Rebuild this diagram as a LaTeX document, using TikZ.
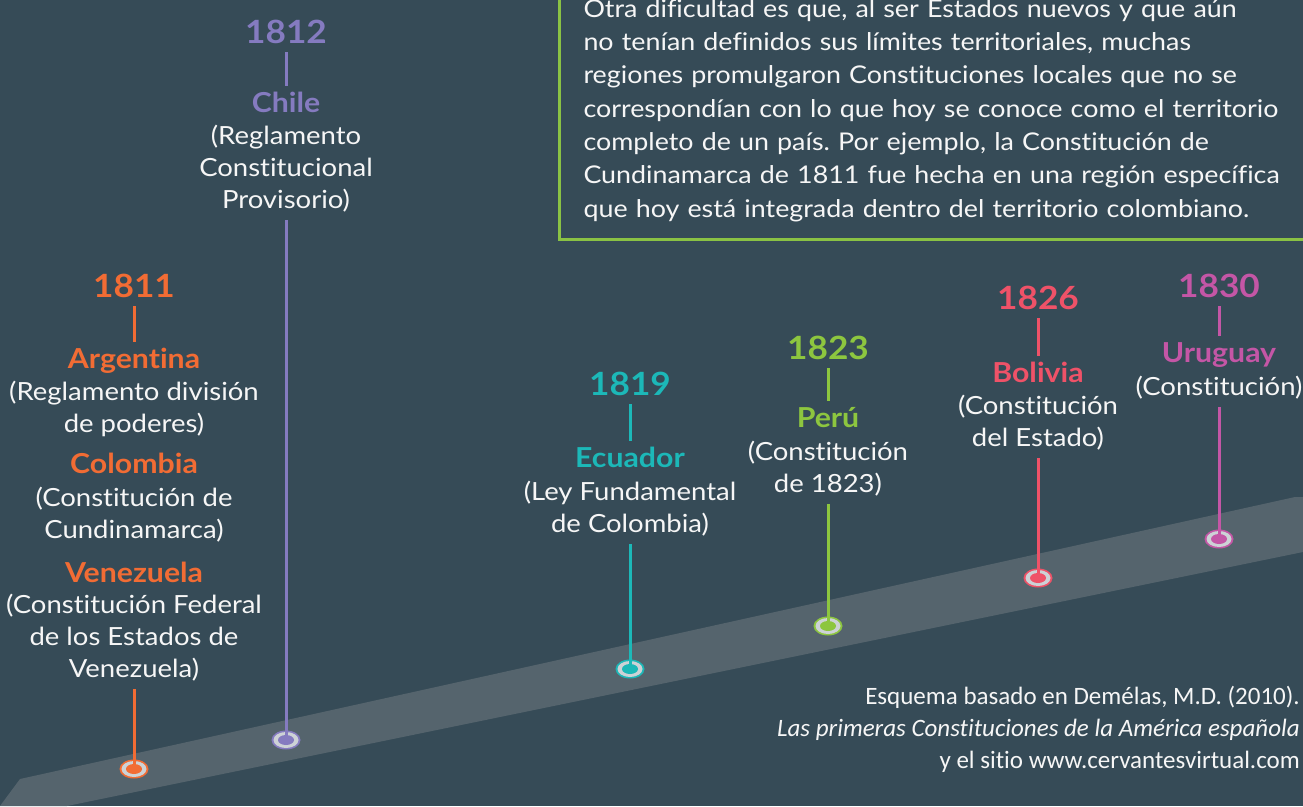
\documentclass[tikz,border=0pt]{standalone}
\usepackage{fontspec}
\setmainfont{Lato}[FakeStretch=1.1, Ligatures=NoCommon]
\newfontfamily\creditfont{Carlito}[Ligatures=NoCommon]
\usetikzlibrary{positioning}
\frenchspacing
\definecolor{bgslate}{RGB}{54,75,87}
\definecolor{band}{RGB}{85,100,109}
\definecolor{ring}{RGB}{205,210,214}
\definecolor{txt}{RGB}{246,246,246}
\definecolor{boxgreen}{RGB}{138,194,68}
\definecolor{c1811}{RGB}{242,108,52}
\definecolor{c1812}{RGB}{133,123,192}
\definecolor{c1819}{RGB}{28,184,184}
\definecolor{c1823}{RGB}{141,198,63}
\definecolor{c1826}{RGB}{239,82,104}
\definecolor{c1830}{RGB}{196,86,166}

\begin{document}
\begin{tikzpicture}[x=1pt, y=-1pt,
  year/.style={font=\fontsize{32}{32}\selectfont\bfseries, inner sep=0pt, anchor=base},
  country/.style={font=\fontsize{27.5}{27.5}\selectfont\bfseries, inner sep=0pt, anchor=base, text height=20pt, text depth=0pt},
  desc/.style={font=\fontsize{25}{32}\selectfont, text=txt, align=center, inner sep=0pt, anchor=base},
  tick/.style={line width=3pt, shorten <=9pt, shorten >=6pt},
  stem/.style={line width=3pt, shorten <=8pt}]
\useasboundingbox (0,0) rectangle (1303,806);
\fill[bgslate] (0,0) rectangle (1303,806);
\fill[band] (0,806) -- (20,779) -- (1295,497) -- (1303,497) -- (1303,552) -- (67,806) -- cycle;

\node[draw=boxgreen, line width=3pt, anchor=south west, inner xsep=24pt, inner ysep=18pt, text=txt,
  text width=760pt, align=left, font=\fontsize{24.4}{33.3}\selectfont] (note) at (558,241)
  {Otra dificultad es que, al ser Estados nuevos y que aún\\
  no tenían definidos sus límites territoriales, muchas\\
  regiones promulgaron Constituciones locales que no se\\
  correspondían con lo que hoy se conoce como el territorio\\
  completo de un país. Por ejemplo, la Constitución de\\
  Cundinamarca de 1811 fue hecha en una región específica\\
  que hoy está integrada dentro del territorio colombiano.};

\node[year, text=c1811] (y1811) at (134,297) {1811};
\node[country, text=c1811] (n1811a) at (134,368) {Argentina};
\node[desc] (d1811a) at (134,432) {(Reglamento división\\de poderes)};
\node[country, text=c1811] (n1811b) at (134,473) {Colombia};
\node[desc] (d1811b) at (134,538) {(Constitución de\\Cundinamarca)};
\node[country, text=c1811] (n1811c) at (134,582) {Venezuela};
\node[desc] (d1811c) at (134,677) {(Constitución Federal\\de los Estados de\\Venezuela)};

\node[year, text=c1812] (y1812) at (286,43) {1812};
\node[country, text=c1812] (n1812) at (286,112) {Chile};
\node[desc] (d1812) at (286,208) {(Reglamento\\Constitucional\\Provisorio)};

\node[year, text=c1819] (y1819) at (630,395) {1819};
\node[country, text=c1819] (n1819) at (630,467) {Ecuador};
\node[desc] (d1819) at (630,532) {(Ley Fundamental\\de Colombia)};

\node[year, text=c1823] (y1823) at (828,359) {1823};
\node[country, text=c1823] (n1823) at (828,427) {Perú};
\node[desc] (d1823) at (828,492) {(Constitución\\de 1823)};

\node[year, text=c1826] (y1826) at (1038,309) {1826};
\node[country, text=c1826] (n1826) at (1038,382) {Bolivia};
\node[desc] (d1826) at (1038,446) {(Constitución\\del Estado)};

\node[year, text=c1830] (y1830) at (1219,297) {1830};
\node[country, text=c1830] (n1830) at (1219,362) {Uruguay};
\node[desc] (d1830) at (1219,395) {(Constitución)};

\coordinate (m1811) at (134,769);
\coordinate (m1812) at (286,740);
\coordinate (m1819) at (630,669);
\coordinate (m1823) at (828,626);
\coordinate (m1826) at (1038,578);
\coordinate (m1830) at (1219,539);

\foreach \y/\d in {1811/d1811c,1812/d1812,1819/d1819,1823/d1823,1826/d1826,1830/d1830} {
  \fill[c\y] (m\y) ellipse (14.5 and 9.5);
  \fill[ring] (m\y) ellipse (12.5 and 8);
  \fill[c\y] (m\y) ellipse (8 and 5);
  \draw[stem, c\y] (\d.south) -- (m\y);
}
\foreach \y/\n in {1811/n1811a,1812/n1812,1819/n1819,1823/n1823,1826/n1826,1830/n1830}
  \draw[tick, c\y] (y\y.south) -- (\n.north);

\node[anchor=base east, align=right, text=txt, inner sep=0pt, font=\creditfont\fontsize{25}{32}\selectfont] (credit) at (1300,768)
  {Esquema basado en Demélas, M.D. (2010).\\\textit{Las primeras Constituciones de la América española}\\y el sitio www.cervantesvirtual.com};
\end{tikzpicture}
\end{document}
